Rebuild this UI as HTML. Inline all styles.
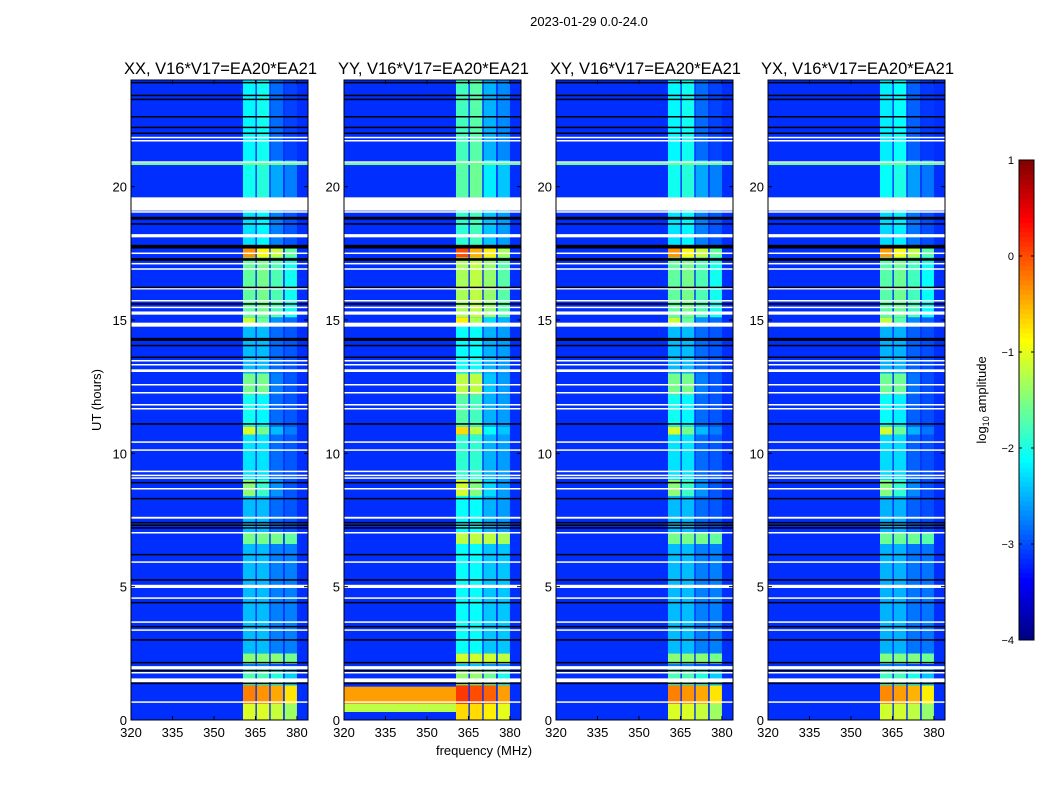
<!DOCTYPE html>
<html><head><meta charset="utf-8">
<style>
body{margin:0;background:#fff;}
svg{display:block;font-family:"Liberation Sans",sans-serif;}
</style></head>
<body>
<svg id="fig" width="1050" height="800" viewBox="0 0 1050 800" xmlns="http://www.w3.org/2000/svg">
<rect width="1050" height="800" fill="#fff"/>
<text x="589" y="26" font-size="13" text-anchor="middle">2023-01-29 0.0-24.0</text>
<text transform="translate(101,400) rotate(-90)" font-size="13" text-anchor="middle">UT (hours)</text>
<text x="484" y="755" font-size="13" text-anchor="middle">frequency (MHz)</text>
<g id="panels"></g>
<g id="cbar"></g>
<text transform="translate(986,400) rotate(-90)" font-size="13" text-anchor="middle">log<tspan font-size="9" dy="3">10</tspan><tspan dy="-3"> amplitude</tspan></text>
</svg>
<script>
// ---- data ----
const panelTitles = ["XX, V16*V17=EA20*EA21","YY, V16*V17=EA20*EA21","XY, V16*V17=EA20*EA21","YX, V16*V17=EA20*EA21"];
const panelOffsets = [-0.15, 0.2, -0.15, -0.2];   // log10 offset of band power per polarisation
const backgroundLevel = -3.15;
const subbands = [[360.5,365],[365.5,370],[370.5,375],[375.6,380]];   // MHz
const segStart = [0, 0.6, 1.3, 1.9, 2.1, 2.5, 6.6, 7.0, 8.4, 9.0, 10.7, 11.0, 12.2, 13.0, 14.75, 15.1, 17.35, 17.7, 19.6, 21.0];
const segEnd   = [0.6, 1.3, 1.9, 2.1, 2.5, 6.6, 7.0, 8.4, 9.0, 10.7, 11.0, 12.2, 13.0, 14.75, 15.1, 17.35, 17.7, 19.6, 21.0, 24.0];
const segLevels = [
 [-0.9,-0.9,-1.0,-1.2],
 [-0.1,-0.2,-0.3,-0.6],
 [-1.6,-1.6,-1.8,-2.2],
 [-2.6,-2.6,-2.8,-2.9],
 [-1.3,-1.3,-1.3,-1.4],
 [-2.3,-2.3,-2.6,-2.6],
 [-1.4,-1.4,-1.4,-1.5],
 [-2.3,-2.3,-2.7,-2.8],
 [-1.3,-1.7,-2.5,-2.8],
 [-2.1,-2.1,-2.7,-2.8],
 [-0.9,-1.4,-2.3,-2.6],
 [-1.9,-2.0,-2.7,-2.8],
 [-1.4,-1.4,-2.6,-2.8],
 [-2.3,-2.3,-2.7,-2.8],
 [-1.0,-1.5,-2.5,-2.7],
 [-1.5,-1.4,-1.6,-1.9],
 [-0.2,-0.7,-1.0,-1.5],
 [-2.1,-2.0,-2.6,-2.8],
 [-1.9,-1.8,-2.4,-2.6],
 [-2.0,-1.9,-2.7,-2.9]
];
const lowRfiStart = [0.3, 0.6];   // YY broadband RFI (hours)
const lowRfiEnd   = [0.6, 1.25];
const lowRfiLevel = [-1.2, -0.4];
const rfiLineTimes = [20.85];
const whiteFlagStart = [21.7,21.82,20.9,19.05,19.1,18.1,17.48,17.1,16.9,16.15,15.7,15.45,15.2,14.75,13.45,13.3,13.05,12.55,12.25,11.8,11.65,10.4,10.1,9.3,9.15,9.05,8.65,7.55,7.0,5.9,4.95,4.55,3.65,3.35,1.9,1.75,1.42,0.65];
const whiteFlagEnd   = [21.75,21.87,20.95,19.08,19.6,18.22,17.53,17.14,16.94,16.2,15.75,15.5,15.32,14.9,13.5,13.35,13.15,12.6,12.3,11.85,11.7,10.45,10.15,9.35,9.2,9.1,8.7,7.62,7.05,5.95,5.07,4.6,3.7,3.4,2.02,1.8,1.56,0.7];
const blackFlagStart = [23.88,23.4,23.25,22.6,22.2,21.98,18.83,18.78,18.58,17.68,17.22,16.2,15.58,14.28,14.22,14.02,13.58,11.08,8.88,8.28,7.38,7.28,7.18,6.18,5.23,4.38,3.48,2.98,2.13,1.83,1.35];
const blackFlagEnd   = [23.93,23.45,23.3,22.65,22.25,22.03,18.87,18.82,18.63,17.82,17.32,16.25,15.63,14.33,14.27,14.07,13.63,11.13,8.93,8.33,7.43,7.33,7.23,6.23,5.28,4.43,3.53,3.03,2.18,1.88,1.4];
const xTicks = [320,335,350,365,380];
const yTicks = [0,5,10,15,20];
const cbarTicks = [1,0,-1,-2,-3,-4];
const cbarLabels = ["1","0","\u22121","\u22122","\u22123","\u22124"];

// ---- layout ----
const NS = "http://www.w3.org/2000/svg";
const panelLeft = [131,344,556,768];
const PW = 177, PT = 80, PB = 720;
const fMin = 320, fMax = 384, tMax = 24;
const vMin = -4, vMax = 1;
function jet(v){
  let x = (v - vMin)/(vMax - vMin); x = Math.max(0, Math.min(1, x));
  const c = t => Math.round(255*Math.max(0, Math.min(1, t)));
  return `rgb(${c(1.5-Math.abs(4*x-3))},${c(1.5-Math.abs(4*x-2))},${c(1.5-Math.abs(4*x-1))})`;
}
function mk(tag, attrs, parent){
  const e = document.createElementNS(NS, tag);
  for (const k in attrs) e.setAttribute(k, attrs[k]);
  parent.appendChild(e); return e;
}
const panels = document.getElementById("panels");
panelTitles.forEach((title, p) => {
  const L = panelLeft[p];
  const xs = f => L + (f - fMin)/(fMax - fMin)*PW;
  const ys = t => PB - t/tMax*(PB - PT);
  const g = mk("g", {}, panels);
  
  
  const bg = mk("rect", {x:L, y:PT, width:PW, height:PB-PT, fill:jet(backgroundLevel)}, g);
  
  
  if (p === 1) lowRfiStart.forEach((s, i) => {
    const r = mk("rect", {x:L, y:ys(lowRfiEnd[i]), width:xs(362)-L, height:ys(s)-ys(lowRfiEnd[i]), fill:jet(lowRfiLevel[i])}, g);
    
    
  });
  segStart.forEach((s, i) => {
    subbands.forEach((sb, j) => {
      const lv = segLevels[i][j] + panelOffsets[p];
      const r = mk("rect", {x:xs(sb[0]), y:ys(segEnd[i]), width:xs(sb[1])-xs(sb[0]), height:ys(s)-ys(segEnd[i]), fill:jet(lv)}, g);
      
      
    });
  });
  rfiLineTimes.forEach(t => {
    const r = mk("rect", {x:L, y:ys(t)-1, width:PW, height:2, fill:jet(-1.6)}, g);
    
    
  });
  whiteFlagStart.forEach((s, i) => {
    const r = mk("rect", {x:L, y:ys(whiteFlagEnd[i]), width:PW, height:Math.max(1.5, ys(s)-ys(whiteFlagEnd[i])), fill:"#fff"}, g);
    
    
  });
  blackFlagStart.forEach((s, i) => {
    const r = mk("rect", {x:L, y:ys(blackFlagEnd[i]), width:PW, height:Math.max(1.5, ys(s)-ys(blackFlagEnd[i])), fill:"#000"}, g);
    
    
  });
  const fr = mk("rect", {x:L, y:PT, width:PW, height:PB-PT, fill:"none", stroke:"#000", "stroke-width":1}, g);
  
  
  const tt = mk("text", {x:L+PW/2+1, y:74, "font-size":16.5, "text-anchor":"middle"}, g);
  tt.textContent = title;
  
  
  xTicks.forEach(v => {
    const x = xs(v);
    mk("line", {x1:x, x2:x, y1:PB, y2:PB-4, stroke:"#000"}, g);
    mk("line", {x1:x, x2:x, y1:PT, y2:PT+4, stroke:"#000"}, g);
    const t = mk("text", {x:x, y:PB+17, "font-size":13, "text-anchor":"middle"}, g);
    t.textContent = v;
    
    
  });
  yTicks.forEach(v => {
    const y = ys(v);
    mk("line", {x1:L, x2:L+4, y1:y, y2:y, stroke:"#000"}, g);
    mk("line", {x1:L+PW, x2:L+PW-4, y1:y, y2:y, stroke:"#000"}, g);
    const t = mk("text", {x:L-4, y:y+5, "font-size":13, "text-anchor":"end"}, g);
    t.textContent = v;
    
    
  });
});
const cb = document.getElementById("cbar");
const CBX = 1019, CBW = 15, CBT = 160, CBB = 640;
const cy = v => CBB - (v - vMin)/(vMax - vMin)*(CBB - CBT);
for (let i = 0; i < 100; i++) {
  const v0 = vMin + (vMax - vMin)*i/100, v1 = vMin + (vMax - vMin)*(i+1)/100;
  mk("rect", {x:CBX, y:cy(v1), width:CBW, height:cy(v0)-cy(v1)+0.5, fill:jet((v0+v1)/2)}, cb);
}
mk("rect", {x:CBX, y:CBT, width:CBW, height:CBB-CBT, fill:"none", stroke:"#000"}, cb);
cbarTicks.forEach((v, i) => {
  const y = cy(v);
  mk("line", {x1:CBX, x2:CBX+3, y1:y, y2:y, stroke:"#000"}, cb);
  mk("line", {x1:CBX+CBW, x2:CBX+CBW-3, y1:y, y2:y, stroke:"#000"}, cb);
  const t = mk("text", {x:CBX-5, y:y+4, "font-size":11, "text-anchor":"end"}, cb);
  t.textContent = cbarLabels[i];
  
  
});
</script>
</body></html>
